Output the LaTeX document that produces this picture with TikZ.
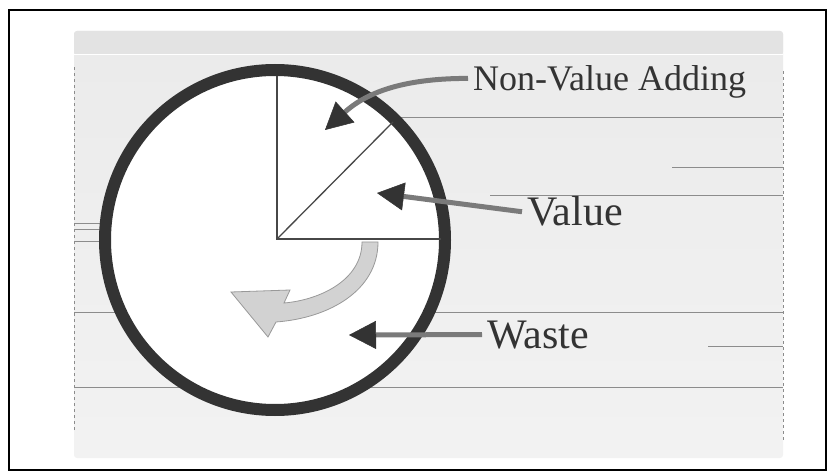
\documentclass[tikz,border=0pt]{standalone}
\usepackage{fontspec}
\setmainfont{Liberation Serif}
\usetikzlibrary{arrows.meta}
\definecolor{ink}{HTML}{333333}
\definecolor{shaft}{HTML}{7A7A7A}
\definecolor{scan}{HTML}{8C8C8C}
\definecolor{band}{HTML}{E3E3E3}
\definecolor{turn}{HTML}{D2D2D2}

\begin{document}
\begin{tikzpicture}[x=1pt, y=1pt,
        label/.style={anchor=base west, inner sep=0pt, text=ink},
        pointer/.style={line width=5pt, draw=shaft,
            -{Triangle[length=27pt, width=28pt, line width=0.5pt, color=ink]}},
        scanline/.style={draw=scan, line width=0.8pt},
        slice/.style={draw=ink!90, line width=1.3pt}
    ]
        \useasboundingbox (0,0) rectangle (828,472);

        % Outer frame
        \draw[line width=2.5pt] (9,2) rectangle (826,462);

        % Grey slide background
        \shade[top color=black!8, bottom color=black!5, rounded corners=3pt] (74,14) rectangle (783,441);
        \fill[band, rounded corners=3pt] (74,417) rectangle (783,441);
        \draw[white, line width=1pt] (74,417) -- (783,417);

        % Scan lines across the slide
        \draw[scanline] (400,355) -- (783,355);
        \draw[scanline] (672,305) -- (783,305);
        \draw[scanline] (490,277) -- (783,277);
        \draw[scanline] (74,160) -- (783,160);
        \draw[scanline] (708,126) -- (783,126);
        \draw[scanline] (74,85) -- (783,85);
        \draw[scanline] (74,249) -- (100,249);
        \draw[scanline] (74,243) -- (100,243);
        \draw[scanline] (74,231) -- (100,231);
        \draw[scanline, dashed] (74,42) -- (74,407);
        \draw[scanline, dashed] (783,32) -- (783,402);

        % The pie
        \draw[line width=12pt, draw=ink, fill=white] (275,232) circle (170);
        \coordinate (centre) at (277,233);
        \coordinate (top) at (277,396);
        \coordinate (right) at (441,233);
        \coordinate (diag) at (393,350);
        \draw[slice] (top) -- (centre) -- (right);
        \draw[slice] (centre) -- (diag);

        % Rotation arrow
        \draw[fill=turn, draw=black!40, line width=0.8pt]
            (378,230) .. controls (378,182) and (330,154) .. (276,150)
            -- (268,135) -- (231,180) -- (290,182) -- (284,169)
            .. controls (320,172) and (362,192) .. (362,230) -- cycle;

        % Labels
        \node[label, font=\fontsize{36}{40}\selectfont] (nva) at (473,381) {Non-Value Adding};
        \node[label, font=\fontsize{42}{46}\selectfont] (val) at (527,246) {Value};
        \node[label, font=\fontsize{42}{46}\selectfont] (waste) at (487,124) {Waste};

        % Arrow tips inside the pie
        \coordinate (nvatip) at (325,342);
        \coordinate (valtip) at (377,279);
        \coordinate (wastetip) at (349,137);

        % Connect labels to slices
        \draw[pointer] ([xshift=-5pt, yshift=4pt]nva.west) to[out=180, in=42] (nvatip);
        \draw[pointer] ([xshift=-5pt]val.west) -- (valtip);
        \draw[pointer] ([xshift=-5pt]waste.west) -- (wastetip);
    \end{tikzpicture}
\end{document}
